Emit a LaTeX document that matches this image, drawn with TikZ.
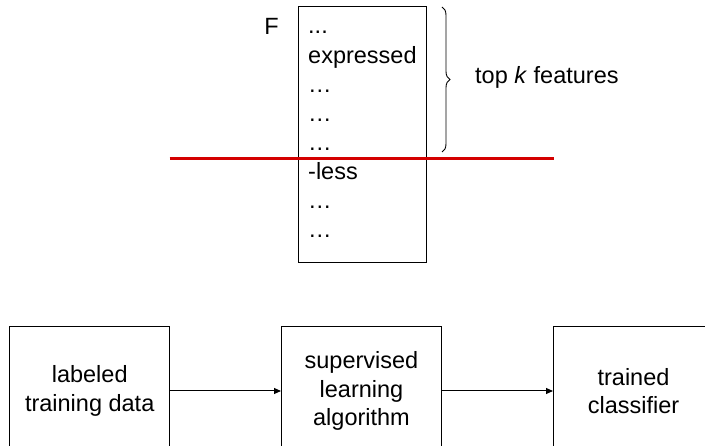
\documentclass[tikz,border=0pt]{standalone}
\usepackage{fontspec}
\setmainfont{Liberation Sans}
\usetikzlibrary{arrows.meta,decorations.pathreplacing}
\definecolor{redline}{RGB}{212,0,0}
\tikzset{
  txt/.style={font=\fontsize{23.5}{28.5}\selectfont, inner sep=0pt},
  listitem/.style={txt, anchor=base west},
  blockbox/.style={draw=black, line width=1pt, txt, align=center, minimum height=128pt},
  flow/.style={line width=1pt, -{Triangle[length=7pt,width=6pt]}},
}
\begin{document}
\begin{tikzpicture}[x=1pt,y=-1pt]
\useasboundingbox (0,0) rectangle (705,446);
\clip (0,0) rectangle (705,446);
% feature list box
\node[draw=black, line width=1pt, minimum width=128pt, minimum height=256pt, inner sep=0pt] (fbox) at (362,135) {};
\node[txt, anchor=base] (flabel) at (271.5,35) {F};
\node[listitem] (l1) at (308,34) {...};
\node[listitem] (l2) at (308,64) {expressed};
\node[listitem] (l3) at (308,93) {…};
\node[listitem] (l4) at (308,122) {…};
\node[listitem] (l5) at (308,151) {…};
\node[listitem] (l6) at (308,180) {-less};
\node[listitem] (l7) at (308,209) {…};
\node[listitem] (l8) at (308,238) {…};
% brace
\coordinate (btop) at (442,7);
\coordinate (bbot) at (442,152);
\draw[line width=0.9pt, decorate, decoration={brace, amplitude=8pt}] (btop) -- (bbot);
\node[txt, anchor=west] (topk) at (475,77) {top \textit{k} features};
% cut line
\coordinate (rl) at (169.5,159);
\coordinate (rr) at (553.5,159);
\draw[redline, line width=3pt] (rl) -- (rr);
% pipeline
\node[blockbox, minimum width=160.5pt] (b1) at (89.7,391) {labeled\\training data};
\node[blockbox, minimum width=160pt] (b2) at (361.5,391) {supervised\\learning\\algorithm};
\node[blockbox, minimum width=160pt] (b3) at (633.5,391) {trained\\classifier};
\draw[flow] (b1.east) -- (b2.west);
\draw[flow] (b2.east) -- (b3.west);
\end{tikzpicture}
\end{document}
